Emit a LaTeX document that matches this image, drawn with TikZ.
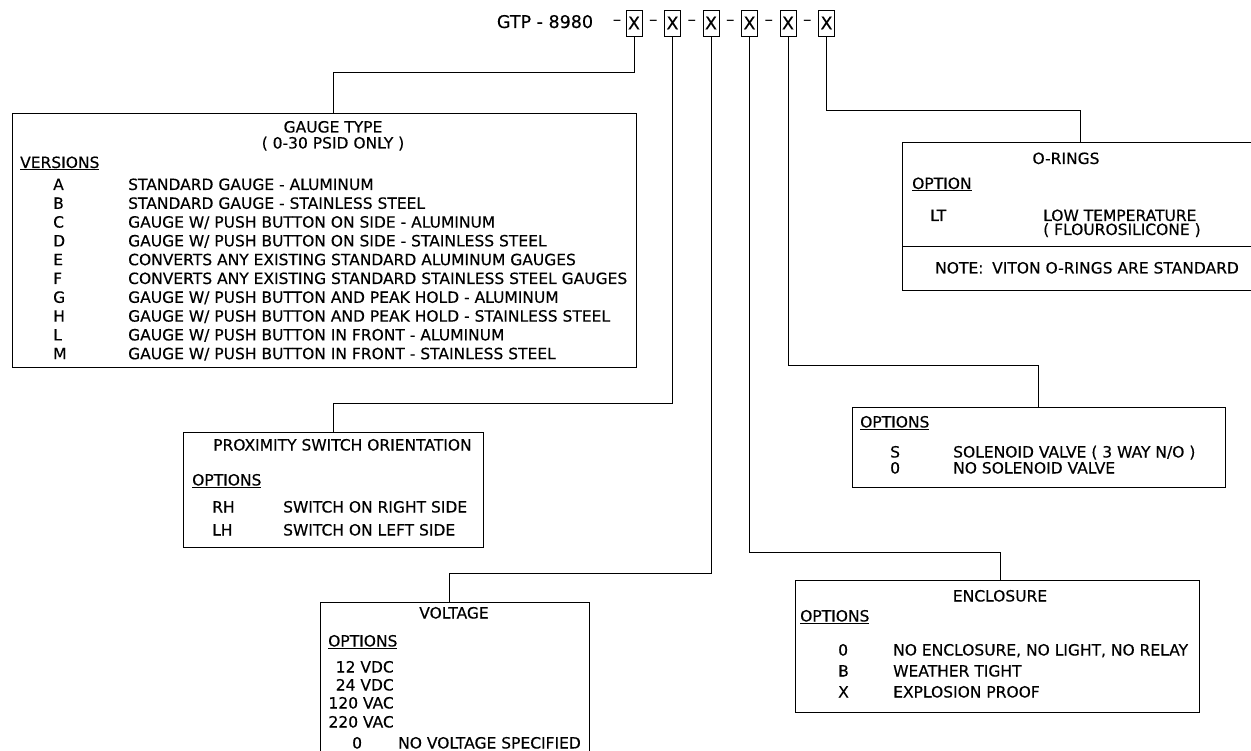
\documentclass[tikz,border=0pt]{standalone}
\usepackage{fontspec}
\setmainfont{DejaVu Sans}[BoldFont={DejaVu Sans}, BoldFeatures={FakeBold=0.35}]
\usetikzlibrary{positioning, calc}

\begin{document}
\begin{tikzpicture}[
        x=1pt, y=-1pt,
        node distance=21.6pt,
        font=\fontsize{15.5}{18}\selectfont\bfseries,
        panel/.style={rectangle, draw=black, line width=0.9pt, anchor=north west, inner sep=0pt},
        xbox/.style={rectangle, draw=black, line width=0.9pt, minimum width=16pt, minimum height=26pt, inner sep=0pt, font=\fontsize{17.5}{20}\selectfont\bfseries},
        hyph/.style={inner sep=0pt, font=\fontsize{17}{20}\selectfont},
        entry/.style={anchor=base west, inner sep=0pt},
        heading/.style={anchor=base, inner sep=0pt},
        link/.style={line width=0.9pt}
    ]
        \useasboundingbox (0,0) rectangle (1251,751);
        \clip (0,0) rectangle (1251,751);

        % Part number
        \node[heading, font=\fontsize{17.5}{20}\selectfont\bfseries] (gtp) at (545,28) {GTP - 8980};
        \node[xbox] (x1) at (634,23) {X};
        \node[xbox, right=of x1] (x2) {X};
        \node[xbox, right=of x2] (x3) {X};
        \node[xbox, right=of x3] (x4) {X};
        \node[xbox, right=of x4] (x5) {X};
        \node[xbox, right=of x5] (x6) {X};
        \node[hyph] (d0) at ($(x1.west)+(-8.5,0)$) {--};
        \node[hyph] (d1) at ($(x1)!0.5!(x2)$) {--};
        \node[hyph] (d2) at ($(x2)!0.5!(x3)$) {--};
        \node[hyph] (d3) at ($(x3)!0.5!(x4)$) {--};
        \node[hyph] (d4) at ($(x4)!0.5!(x5)$) {--};
        \node[hyph] (d5) at ($(x5)!0.5!(x6)$) {--};

        % Gauge type
        \node[panel, minimum width=624pt, minimum height=254pt] (gauge) at (12,113) {};
        \node[heading] (gtitle) at (333,132.5) {GAUGE TYPE};
        \node[heading] (gsub) at (333,148.5) {( 0-30 PSID ONLY )};
        \node[entry] (gver) at (20,168) {\underline{VERSIONS}};
        \node[entry] (gA) at (53,190) {A};
        \node[entry] (gAt) at (128,190) {STANDARD GAUGE - ALUMINUM};
        \node[entry] (gB) at (53,208.8) {B};
        \node[entry] (gBt) at (128,208.8) {STANDARD GAUGE - STAINLESS STEEL};
        \node[entry] (gC) at (53,227.6) {C};
        \node[entry] (gCt) at (128,227.6) {GAUGE W/ PUSH BUTTON ON SIDE - ALUMINUM};
        \node[entry] (gD) at (53,246.4) {D};
        \node[entry] (gDt) at (128,246.4) {GAUGE W/ PUSH BUTTON ON SIDE - STAINLESS STEEL};
        \node[entry] (gE) at (53,265.2) {E};
        \node[entry] (gEt) at (128,265.2) {CONVERTS ANY EXISTING STANDARD ALUMINUM GAUGES};
        \node[entry] (gF) at (53,284) {F};
        \node[entry] (gFt) at (128,284) {CONVERTS ANY EXISTING STANDARD STAINLESS STEEL GAUGES};
        \node[entry] (gG) at (53,302.8) {G};
        \node[entry] (gGt) at (128,302.8) {GAUGE W/ PUSH BUTTON AND PEAK HOLD - ALUMINUM};
        \node[entry] (gH) at (53,321.6) {H};
        \node[entry] (gHt) at (128,321.6) {GAUGE W/ PUSH BUTTON AND PEAK HOLD - STAINLESS STEEL};
        \node[entry] (gL) at (53,340.4) {L};
        \node[entry] (gLt) at (128,340.4) {GAUGE W/ PUSH BUTTON IN FRONT - ALUMINUM};
        \node[entry] (gM) at (53,359.2) {M};
        \node[entry] (gMt) at (128,359.2) {GAUGE W/ PUSH BUTTON IN FRONT - STAINLESS STEEL};

        % O-rings
        \node[panel, minimum width=360pt, minimum height=148pt] (orings) at (902,142) {};
        \coordinate (odiv) at (902,246);
        \node[heading] (otitle) at (1066,164) {O-RINGS};
        \node[entry] (oopt) at (912,189) {\underline{OPTION}};
        \node[entry] (oLT) at (930,221) {LT};
        \node[entry] (oLTt) at (1043,221) {LOW TEMPERATURE};
        \node[entry] (oLTs) at (1043,235) {( FLOUROSILICONE )};
        \node[entry] (onote) at (935,273.5) {NOTE:};
        \node[entry] (onotet) at (992,273.5) {VITON O-RINGS ARE STANDARD};

        % Solenoid valve
        \node[panel, minimum width=373pt, minimum height=80pt] (sol) at (852,407) {};
        \node[entry] (sopt) at (860,427.5) {\underline{OPTIONS}};
        \node[entry] (sS) at (890,457.5) {S};
        \node[entry] (sSt) at (953,457.5) {SOLENOID VALVE ( 3 WAY N/O )};
        \node[entry] (s0) at (890,473.5) {0};
        \node[entry] (s0t) at (953,473.5) {NO SOLENOID VALVE};

        % Proximity switch
        \node[panel, minimum width=300pt, minimum height=115pt] (prox) at (183,432) {};
        \node[entry] (ptitle) at (213,450.5) {PROXIMITY SWITCH ORIENTATION};
        \node[entry] (popt) at (192,485.5) {\underline{OPTIONS}};
        \node[entry] (pRH) at (212,512.5) {RH};
        \node[entry] (pRHt) at (283,512.5) {SWITCH ON RIGHT SIDE};
        \node[entry] (pLH) at (212,535.5) {LH};
        \node[entry] (pLHt) at (283,535.5) {SWITCH ON LEFT SIDE};

        % Voltage
        \node[panel, minimum width=269pt, minimum height=170pt] (volt) at (320,602) {};
        \node[heading] (vtitle) at (454,618.5) {VOLTAGE};
        \node[entry] (vopt) at (328,646.5) {\underline{OPTIONS}};
        \node[anchor=base east, inner sep=0pt] (v12) at (394,672.5) {12 VDC};
        \node[anchor=base east, inner sep=0pt] (v24) at (394,690.5) {24 VDC};
        \node[anchor=base east, inner sep=0pt] (v120) at (394,708.5) {120 VAC};
        \node[anchor=base east, inner sep=0pt] (v220) at (394,727.5) {220 VAC};
        \node[entry] (v0) at (352,748.5) {0};
        \node[entry] (v0t) at (398,748.5) {NO VOLTAGE SPECIFIED};

        % Enclosure
        \node[panel, minimum width=404pt, minimum height=132pt] (encl) at (795,580) {};
        \node[heading] (etitle) at (1000,601.5) {ENCLOSURE};
        \node[entry] (eopt) at (800,621.5) {\underline{OPTIONS}};
        \node[entry] (e0) at (838,655.5) {0};
        \node[entry] (e0t) at (893,655.5) {NO ENCLOSURE, NO LIGHT, NO RELAY};
        \node[entry] (eB) at (838,676.5) {B};
        \node[entry] (eBt) at (893,676.5) {WEATHER TIGHT};
        \node[entry] (eX) at (838,697.5) {X};
        \node[entry] (eXt) at (893,697.5) {EXPLOSION PROOF};

        % Bends
        \coordinate (k1) at (333,72);
        \coordinate (k2) at (333,403);
        \coordinate (k3) at (449,573);
        \coordinate (k4) at (1000,552);
        \coordinate (k5) at (1038,365);
        \coordinate (k6) at (1080,110);

        % Lines
        \draw[link] (odiv) -- (odiv -| orings.east);
        \draw[link] (x1.south) |- (k1) -- (k1 |- gauge.north);
        \draw[link] (x2.south) |- (k2) -- (k2 |- prox.north);
        \draw[link] (x3.south) |- (k3) -- (k3 |- volt.north);
        \draw[link] (x4.south) |- (k4) -- (k4 |- encl.north);
        \draw[link] (x5.south) |- (k5) -- (k5 |- sol.north);
        \draw[link] (x6.south) |- (k6) -- (k6 |- orings.north);
    \end{tikzpicture}
\end{document}
